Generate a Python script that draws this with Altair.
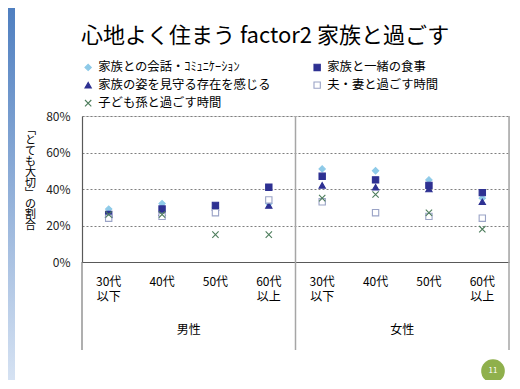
import altair as alt
import pandas as pd

# ---- data ----
groups = ["男性", "男性", "男性", "男性", "女性", "女性", "女性", "女性"]
ages = ["30代/以下", "40代", "50代", "60代/以上", "30代/以下", "40代", "50代", "60代/以上"]
series = [
    "家族との会話・ｺﾐｭﾆｹｰｼｮﾝ",
    "家族と一緒の食事",
    "家族の姿を見守る存在を感じる",
    "夫・妻と過ごす時間",
    "子ども孫と過ごす時間",
]
v_talk = [29, 32, 30, 32, 51, 50, 45, 35]
v_meal = [26, 29, 31, 41, 47, 45, 42, 38]
v_watch = [26, 27, 30, 31, 42, 41, 40, 33]
v_spouse = [24, 25, 27, 34, 33, 27, 25, 24]
v_kids = [26, 26, 15, 15, 35, 37, 27, 18]
values = [v_talk, v_meal, v_watch, v_spouse, v_kids]

keys = [f"{g}|{a}" for g, a in zip(groups, ages)]
rows = []
for i, (s, vals) in enumerate(zip(series, values)):
    for k, v in zip(keys, vals):
        rows.append({"key": k, "series": s, "value": v, "sidx": i})
df = pd.DataFrame(rows)

group_names = ["男性", "女性"]
group_df = pd.DataFrame({"key": [keys[1], keys[5]], "g": group_names})
sep_df = pd.DataFrame({"key": [keys[3], keys[7]]})
left_df = pd.DataFrame({"key": [keys[0]]})

W, H = 427, 146
FONT = "Noto Sans CJK JP"

stroke_colors = ["#8ecae8", "#2e3192", "#2e3192", "#9aa3c6", "#4d7d5c"]
fill_colors = ["#8ecae8", "#2e3192", "#2e3192", "#ffffff", "transparent"]
shapes = ["diamond", "square", "triangle-up", "square", "M-1,-1L1,1M-1,1L1,-1"]

# legend is laid out column by column: reorder so rows read 1,2 / 3,4 / 5
legend_order = [0, 2, 4, 1, 3]
dom = [series[i] for i in legend_order]
rng_stroke = [stroke_colors[i] for i in legend_order]
rng_fill = [fill_colors[i] for i in legend_order]
rng_shape = [shapes[i] for i in legend_order]

xscale = alt.Scale(domain=keys, paddingInner=0, paddingOuter=0)

points = alt.Chart(df).mark_point(size=40, strokeWidth=1.1, opacity=1).encode(
    x=alt.X(
        "key:N",
        sort=keys,
        scale=xscale,
        axis=alt.Axis(
            title=None,
            labelExpr="split(split(datum.value, '|')[1], '/')",
            labelAngle=0,
            labelAlign="center",
            labelFontSize=12,
            labelColor="#000000",
            labelLineHeight=15,
            labelPadding=19,
            labelBaseline="middle",
            ticks=False,
            domainColor="#595959",
            domainWidth=1.2,
        ),
    ),
    y=alt.Y(
        "value:Q",
        scale=alt.Scale(domain=[0, 80], nice=False),
        axis=alt.Axis(
            values=[0, 20, 40, 60, 80],
            labelExpr="datum.value + '%'",
            labelFontSize=12,
            labelColor="#222222",
            labelPadding=12,
            ticks=False,
            grid=True,
            gridDash=[2, 2],
            gridColor="#7f7f7f",
            gridWidth=1,
            domainColor="#595959",
            domainWidth=1.2,
            title=["﹁", "と", "て", "も", "大", "切", "﹂", " ", "の", "割", "合"],
            titleAngle=0,
            titleFontSize=11,
            titleFontWeight="normal",
            titleLineHeight=10.6,
            titleColor="#000000",
            titleX=-52,
            titleY=8,
            titleAlign="center",
            titleBaseline="top",
        ),
    ),
    shape=alt.Shape("series:N", scale=alt.Scale(domain=dom, range=rng_shape),
                    legend=alt.Legend(title=None)),
    stroke=alt.Stroke("series:N", scale=alt.Scale(domain=dom, range=rng_stroke),
                      legend=alt.Legend(title=None)),
    fill=alt.Fill("series:N", scale=alt.Scale(domain=dom, range=rng_fill),
                  legend=alt.Legend(title=None)),
    order=alt.Order("sidx:Q"),
)

seps = alt.Chart(sep_df).mark_rule(color="#a6a6a6", strokeWidth=1.5).encode(
    x=alt.X("key:N", sort=keys, scale=xscale, bandPosition=1),
    y=alt.value(0),
    y2=alt.value(H + 88),
)
left_rule = alt.Chart(left_df).mark_rule(color="#7a7a7a", strokeWidth=1.2).encode(
    x=alt.X("key:N", sort=keys, scale=xscale, bandPosition=0),
    y=alt.value(H),
    y2=alt.value(H + 88),
)
group_text = alt.Chart(group_df).mark_text(fontSize=12, font=FONT, color="#000000", baseline="middle").encode(
    x=alt.X("key:N", sort=keys, scale=xscale, bandPosition=1),
    y=alt.value(H + 68),
    text="g:N",
)

strip = alt.Chart(pd.DataFrame({"a": [0]})).mark_rect(
    fill=alt.LinearGradient(
        gradient="linear",
        stops=[alt.GradientStop(color="#4f7fc0", offset=0), alt.GradientStop(color="#d7e3f3", offset=1)],
        x1=0, x2=0, y1=0, y2=1,
    )
).encode(x=alt.value(-74), x2=alt.value(-67), y=alt.value(-108), y2=alt.value(268))

badge = alt.Chart(pd.DataFrame({"t": ["11"]})).mark_circle(size=560, color="#8fb04c", opacity=1).encode(
    x=alt.value(411), y=alt.value(255)
)
badge_txt = alt.Chart(pd.DataFrame({"t": ["11"]})).mark_text(fontSize=8, color="#ffffff", font=FONT).encode(
    x=alt.value(411), y=alt.value(255), text="t:N"
)

chart = alt.layer(strip, left_rule, seps, points, group_text, badge, badge_txt).properties(
    width=W,
    height=H,
    title=alt.TitleParams(
        "心地よく住まう factor2 家族と過ごす",
        anchor="start",
        frame="group",
        fontSize=22,
        fontWeight="normal",
        font=FONT,
        color="#000000",
        offset=-40,
        dx=-1,
    ),
    autosize=alt.AutoSizeParams(type="none"),
    padding={"left": 74, "top": 108, "right": 3, "bottom": 118},
).configure_view(
    strokeWidth=1, stroke=None
).configure(
    font=FONT
).configure_legend(
    orient="none",
    legendX=0,
    legendY=-55,
    columns=2,
    columnPadding=40,
    rowPadding=5,
    labelFontSize=12.3,
    labelColor="#000000",
    labelFont=FONT,
    symbolSize=40,
    symbolStrokeWidth=1.1,
    labelLimit=300,
    padding=0,
)

chart.save("out.html", embed_options={"renderer": "svg", "actions": False})
